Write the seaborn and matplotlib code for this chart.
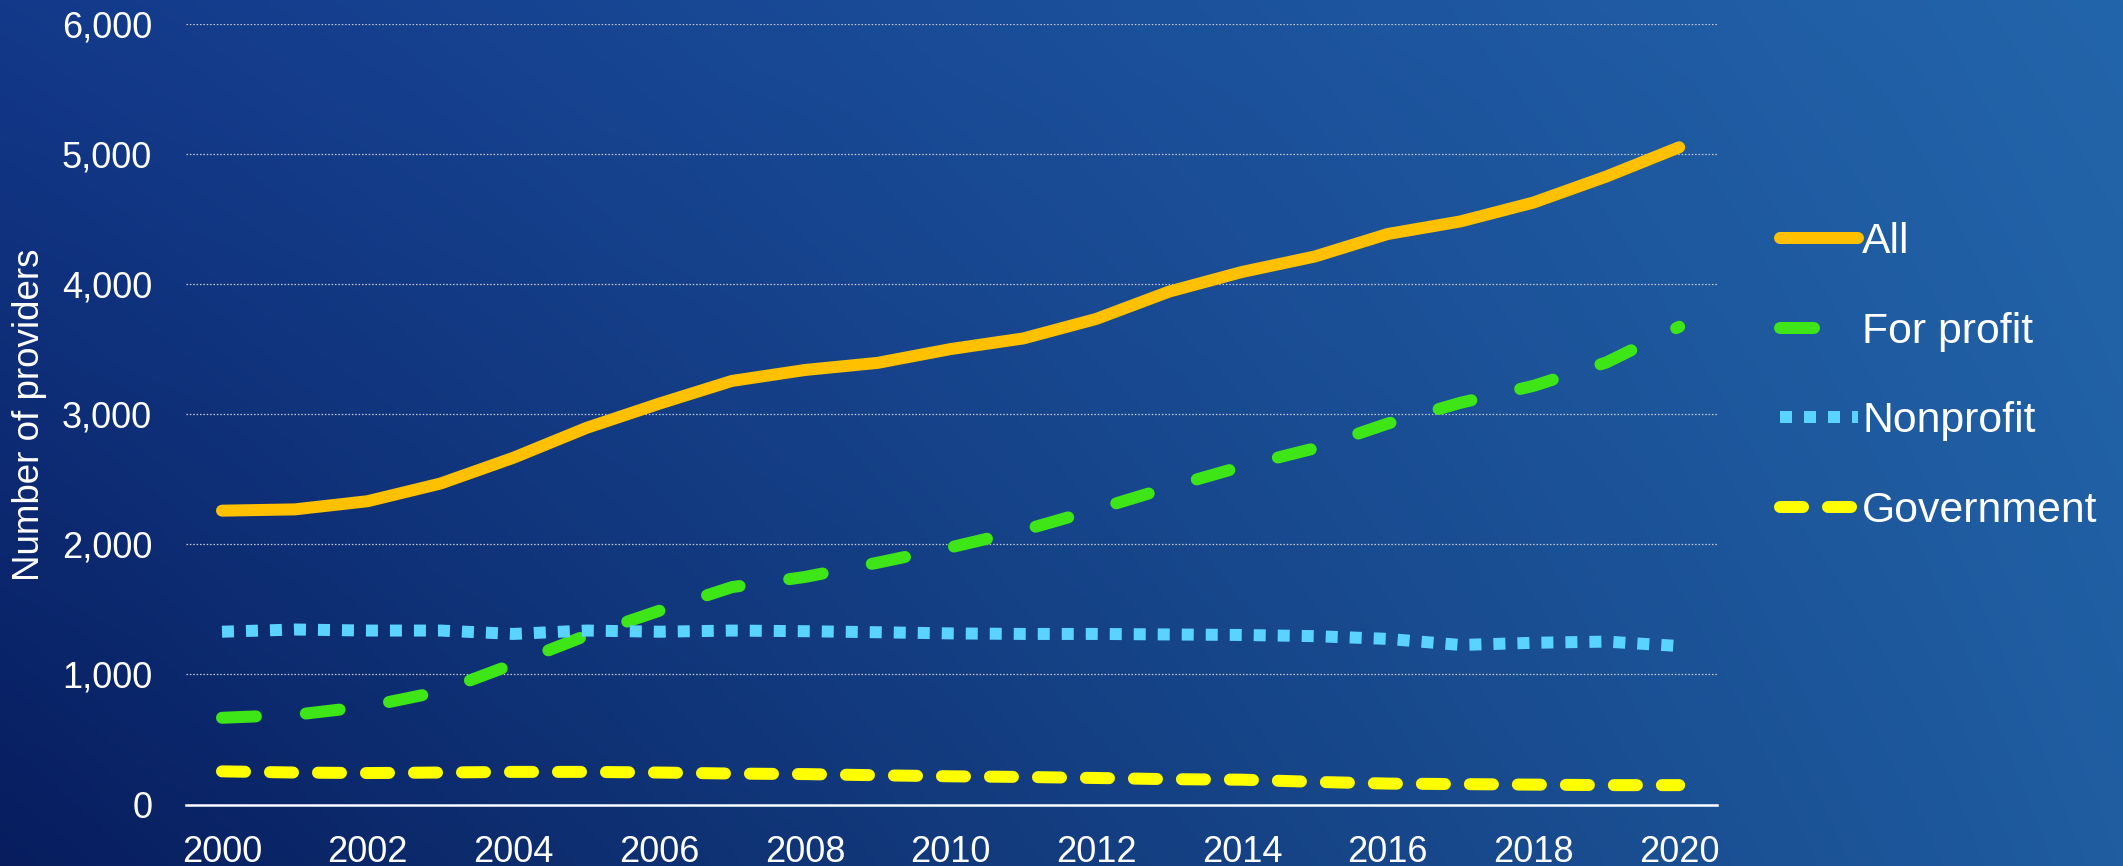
import numpy as np
import pandas as pd
import matplotlib
matplotlib.use("Agg")
import matplotlib.pyplot as plt
import seaborn as sns

# ---- data ----
years = list(range(2000, 2021))
all_providers = [2260, 2270, 2333, 2469, 2667, 2896, 3083, 3258, 3342, 3397,
                 3503, 3585, 3735, 3945, 4096, 4215, 4388, 4485, 4630, 4830, 5055]
for_profit = [667, 690, 755, 870, 1080, 1300, 1490, 1672, 1750, 1860,
              1978, 2110, 2270, 2440, 2600, 2740, 2930, 3090, 3220, 3400, 3675]
nonprofit = [1329, 1346, 1338, 1338, 1312, 1338, 1329, 1338, 1333, 1325,
             1316, 1312, 1312, 1308, 1304, 1295, 1274, 1227, 1244, 1253, 1219]
government = [255, 246, 242, 246, 251, 251, 246, 238, 234, 225,
              217, 212, 204, 195, 191, 174, 161, 157, 153, 149, 149]
series_names = ["All", "For profit", "Nonprofit", "Government"]
series_values = [all_providers, for_profit, nonprofit, government]
y_ticks = [0, 1000, 2000, 3000, 4000, 5000, 6000]
y_tick_labels = [f"{v:,}" for v in y_ticks]
x_ticks = list(range(2000, 2021, 2))
x_tick_labels = [str(v) for v in x_ticks]
y_label = "Number of providers"

# ---- styles ----
colors = ["#FFC000", "#3EE617", "#5BD3FF", "#FFFF00"]
linestyles = ["-", (0, (2.83, 4.17)), (0, (1.0, 1.0)), (0, (1.92, 2.08))]
capstyles = ["round", "round", "butt", "round"]
LW = 8.64

sns.set_theme(style="white")
plt.rcParams["font.family"] = ["Liberation Sans", "DejaVu Sans"]

W, H, DPI = 2123, 866, 100
fig = plt.figure(figsize=(W / DPI, H / DPI), dpi=DPI)

# background gradient (bilinear between corner colors)
bg_ax = fig.add_axes([0, 0, 1, 1], zorder=-10)
bl = np.array([7, 29, 94]) / 255
tl = np.array([19, 57, 138]) / 255
tr = np.array([35, 101, 170]) / 255
br = np.array([31, 92, 160]) / 255
nx, ny = 256, 128
u = np.linspace(0, 1, nx)[None, :, None]
v = np.linspace(1, 0, ny)[:, None, None]  # top row -> v=1
img = (1 - u) * (1 - v) * bl + u * (1 - v) * br + (1 - u) * v * tl + u * v * tr
bg_ax.imshow(img, aspect="auto", extent=[0, 1, 0, 1], interpolation="bilinear")
bg_ax.set_axis_off()

ax = fig.add_axes([0.0874, 0.0710, 0.8088 - 0.0874, 0.9718 - 0.0710])
ax.set_facecolor("none")

df = pd.DataFrame({"year": years})
for name, vals, c, ls, cap in zip(series_names, series_values, colors, linestyles, capstyles):
    df[name] = vals
    sns.lineplot(data=df, x="year", y=name, ax=ax, color=c, lw=LW, linestyle=ls,
                 dash_capstyle=cap, solid_capstyle="round", label=name, zorder=3)

ax.set_xlim(1999.5, 2020.52)
ax.set_ylim(0, 6000)
ax.set_xticks(x_ticks)
ax.set_xticklabels(x_tick_labels)
ax.set_yticks(y_ticks)
ax.set_yticklabels(y_tick_labels)
ax.tick_params(axis="both", length=0, labelsize=26, labelcolor="white")
ax.tick_params(axis="y", pad=24)
ax.tick_params(axis="x", pad=22)
ax.set_xlabel("")
ax.set_ylabel(y_label, fontsize=26.5, color="white")
ax.yaxis.set_label_coords(-0.0904, 0.5)

for s in ["left", "right", "top"]:
    ax.spines[s].set_visible(False)
ax.spines["bottom"].set_color("white")
ax.spines["bottom"].set_linewidth(1.8)

ax.grid(False)
for yv in y_ticks[1:]:
    ax.axhline(yv, color="#C8CCD8", lw=0.9, linestyle=(0, (1.2, 1.5)), zorder=1)

handles, labels = ax.get_legend_handles_labels()
if ax.legend_:
    ax.legend_.remove()
leg = fig.legend(handles, labels, loc="upper left", bbox_to_anchor=(1780 / W, 1 - 222 / H),
                 frameon=False, fontsize=30.8, handlelength=1.82, handletextpad=0.1,
                 labelspacing=1.16, borderpad=0, borderaxespad=0)
for t in leg.get_texts():
    t.set_color("white")

fig.savefig("out.png", dpi=DPI)
